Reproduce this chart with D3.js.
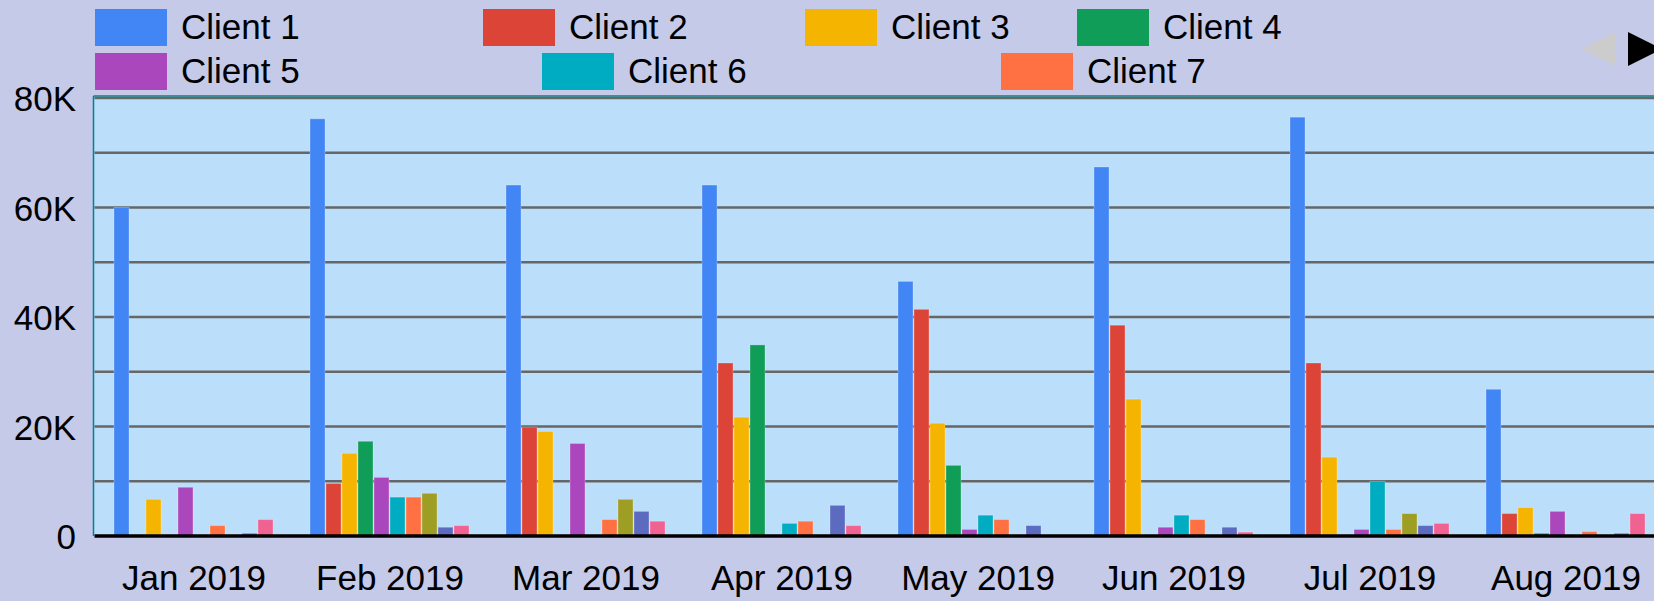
<!DOCTYPE html>
<html><head><meta charset="utf-8">
<script src="https://cdn.jsdelivr.net/npm/d3@7/dist/d3.min.js"></script>
<style>html,body{margin:0;padding:0;background:#c5cae9;overflow:hidden}svg{display:block}text{font-family:Arial,"Liberation Sans",sans-serif}</style>
</head><body><svg id="c" width="1654" height="601"></svg>
<script>
const months = ["Jan 2019","Feb 2019","Mar 2019","Apr 2019","May 2019","Jun 2019","Jul 2019","Aug 2019"];
const seriesNames = ["Client 1","Client 2","Client 3","Client 4","Client 5","Client 6","Client 7","Client 8","Client 9","Client 10"];
const colors = ["#4285f4","#db4437","#f4b400","#0f9d58","#ab47bc","#00acc1","#ff7043","#9e9d24","#5c6bc0","#f06292"];
const client1 = [60000,76200,64100,64100,46500,67400,76500,26800];
const client2 = [0,9600,19900,31600,41400,38500,31600,4100];
const client3 = [6700,15100,19100,21700,20600,25000,14400,5200];
const client4 = [0,17300,0,34900,12900,0,0,500];
const client5 = [8900,10700,16900,0,1200,1600,1200,4500];
const client6 = [0,7100,0,2300,3800,3800,10000,0];
const client7 = [1900,7100,3000,2700,3000,3000,1200,800];
const client8 = [0,7800,6700,0,0,0,4100,0];
const client9 = [500,1600,4500,5600,1900,1600,1900,500];
const client10 = [3000,1900,2700,1900,0,700,2300,4100];
const yTicks = [0,20000,40000,60000,80000];
const yTickLabels = ["0","20K","40K","60K","80K"];
const gridValues = [10000,20000,30000,40000,50000,60000,70000,80000];

const seriesValues = [client1,client2,client3,client4,client5,client6,client7,client8,client9,client10];
const svg = d3.select("#c");
const W = 1654, H = 601;
const plot = {left: 93.5, top: 96, bottom: 536};

const x0 = d3.scaleBand().domain(months).range([96, 1664]).paddingInner(36/196).paddingOuter(18/196);
const x1 = d3.scaleBand().domain(seriesNames).range([0, x0.bandwidth()]);
const y = d3.scaleLinear().domain([0, 80000]).range([536, 98]);

// plot background
svg.append("rect").attr("x", plot.left).attr("y", plot.top).attr("width", W - plot.left).attr("height", plot.bottom - plot.top).attr("fill", "#bbdefb");
svg.append("line").attr("x1", plot.left).attr("x2", W).attr("y1", plot.top).attr("y2", plot.top).attr("stroke", "#00838f").attr("stroke-width", 1.5);
svg.append("line").attr("x1", plot.left).attr("x2", plot.left).attr("y1", plot.top).attr("y2", plot.bottom).attr("stroke", "#00838f").attr("stroke-width", 1.5);

// gridlines
svg.append("g").selectAll("line").data(gridValues).join("line")
  .attr("x1", plot.left + 1).attr("x2", W)
  .attr("y1", d => y(d)).attr("y2", d => y(d))
  .attr("stroke", "#666666").attr("stroke-width", 2.5);

// bars
const groups = svg.append("g").selectAll("g").data(months).join("g")
  .attr("transform", d => `translate(${x0(d)},0)`);
groups.selectAll("rect").data((m, mi) => seriesNames.map((s, si) => ({s, si, v: seriesValues[si][mi]})).filter(d => d.v > 0))
  .join("rect")
  .attr("x", d => x1(d.s))
  .attr("width", x1.bandwidth() - 1)
  .attr("y", d => y(d.v))
  .attr("height", d => y(0) - y(d.v))
  .attr("fill", d => colors[d.si])
  .attr("stroke", "rgba(255,255,255,0.25)").attr("stroke-width", 1);

// baseline
svg.append("line").attr("x1", plot.left + 1).attr("x2", W).attr("y1", y(0)).attr("y2", y(0)).attr("stroke", "#000").attr("stroke-width", 3.5);

// y axis labels
const yAxis = d3.axisLeft(y).tickValues(yTicks).tickFormat((d, i) => yTickLabels[i]).tickSize(0).tickPadding(0);
const ya = svg.append("g").attr("transform", "translate(76,0)").call(yAxis);
ya.select(".domain").remove();
ya.selectAll("text").attr("font-size", 35).attr("fill", "#000").attr("dy", "0.36em").attr("font-family", "Arial, 'Liberation Sans', sans-serif");

// x axis labels
const xAxis = d3.axisBottom(x0).tickSize(0).tickPadding(0);
const xa = svg.append("g").attr("transform", "translate(0,565)").call(xAxis);
xa.select(".domain").remove();
xa.selectAll("text").attr("font-size", 35).attr("fill", "#000").attr("dy", "0.72em").attr("font-family", "Arial, 'Liberation Sans', sans-serif");

// legend (first page: 7 items)
const legendLayout = [[95,9],[483,9],[805,9],[1077,9],[95,53],[542,53],[1001,53]];
const leg = svg.append("g").selectAll("g").data(seriesNames.slice(0, 7)).join("g")
  .attr("transform", (d, i) => `translate(${legendLayout[i][0]},${legendLayout[i][1]})`);
leg.append("rect").attr("width", 72).attr("height", 37).attr("fill", (d, i) => colors[i]);
leg.append("text").attr("x", 86).attr("y", 30).attr("font-size", 35).attr("fill", "#000").text(d => d);

// paging arrows
svg.append("path").attr("d", "M1616,32 L1616,66 L1581,49 Z").attr("fill", "#cccccc");
svg.append("path").attr("d", "M1628,32 L1628,66 L1662,49 Z").attr("fill", "#000000");
</script></body></html>
